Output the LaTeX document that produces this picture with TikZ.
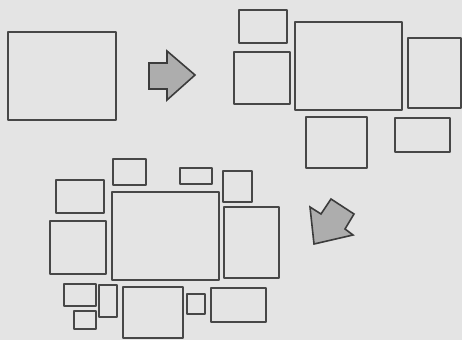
\documentclass[tikz,border=0pt]{standalone}
\usetikzlibrary{calc}
\definecolor{tileBg}{HTML}{E4E4E4}
\definecolor{tileLine}{HTML}{474747}
\definecolor{tileArrow}{HTML}{ADADAD}
\definecolor{tileArrowLine}{HTML}{3C3C3C}
\begin{document}
\begin{tikzpicture}[x=1pt,y=-1pt,line cap=round,line join=round]
\path[fill=tileBg] (0,0) rectangle (462,340);
\tikzset{win/.style={draw=tileLine,line width=1.6pt},bigarrow/.style={draw=tileArrowLine,fill=tileArrow,line width=1.6pt,line join=miter}}
% one window
\draw[win] (8,32) rectangle (116,120);
\draw[bigarrow] (149,63) -- (167,63) -- (167,51) -- (195,75) -- (167,100) -- (167,89) -- (149,89) -- cycle;
% windows spread out
\draw[win] (239,10) rectangle (287,43); \draw[win] (234,52) rectangle (290,104);
\draw[win] (295,22) rectangle (402,110); \draw[win] (408,38) rectangle (461,108);
\draw[win] (306,117) rectangle (367,168); \draw[win] (395,118) rectangle (450,152);
\draw[bigarrow] (310,207) -- (321,214) -- (331,199) -- (354,214) -- (345,229) -- (353,235) -- (314,244) -- cycle;
% windows packed round the big one
\draw[win] (112,192) rectangle (219,280);
\draw[win] (113,159) rectangle (146,185); \draw[win] (180,168) rectangle (212,184); \draw[win] (223,171) rectangle (252,202);
\draw[win] (56,180) rectangle (104,213); \draw[win] (50,221) rectangle (106,274); \draw[win] (224,207) rectangle (279,278);
\draw[win] (64,284) rectangle (96,306); \draw[win] (99,285) rectangle (117,317); \draw[win] (74,311) rectangle (96,329);
\draw[win] (123,287) rectangle (183,338); \draw[win] (187,294) rectangle (205,314); \draw[win] (211,288) rectangle (266,322);
\end{tikzpicture}
\end{document}
